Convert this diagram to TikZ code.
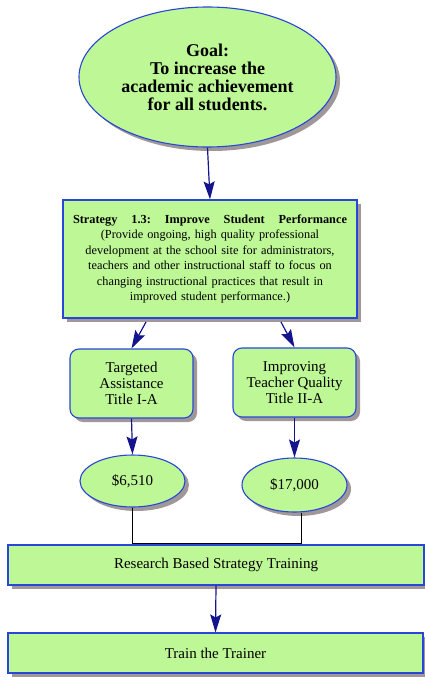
\documentclass[tikz,border=0pt]{standalone}
\usepackage{fontspec}
\setmainfont{Liberation Serif}
\usetikzlibrary{shapes.geometric,shadows,arrows.meta}

\definecolor{boxgreen}{RGB}{190,248,150}
\definecolor{edgeblue}{RGB}{40,70,215}
\definecolor{arrownavy}{RGB}{20,20,140}
\definecolor{shadowgray}{RGB}{160,152,152}

\tikzset{
  plan/.style={draw=edgeblue,line width=1.1pt,fill=boxgreen,inner sep=0pt,align=center,
    drop shadow={shadow xshift=4pt,shadow yshift=-4pt,fill=shadowgray,opacity=1}},
  oval/.style={plan,ellipse},
  flat/.style={plan,rectangle},
  round/.style={plan,rectangle,rounded corners=9pt},
  link/.style={draw=arrownavy,line width=1.2pt,-{Stealth[length=18pt,width=11pt,inset=3pt]}}
}

\begin{document}
\begin{tikzpicture}[x=1pt,y=-1pt]

\useasboundingbox (0,0) rectangle (425,677);

\node[oval,minimum width=257pt,minimum height=140pt,font=\fontsize{18}{18}\selectfont\bfseries] (goal) at (207.5,77) {Goal:\\To increase the\\academic achievement\\for all students.};

\node[flat,minimum width=294pt,minimum height=118pt,text width=290pt,font=\fontsize{12.3}{15.5}\selectfont] (strat) at (210,259) {\makebox[274pt]{\bfseries Strategy\hfill 1.3:\hfill Improve\hfill Student\hfill Performance}\\(Provide ongoing, high quality professional\\development at the school site for administrators,\\teachers and other instructional staff to focus on\\changing instructional practices that result in\\improved student performance.)};

\node[round,minimum width=123pt,minimum height=69pt,font=\fontsize{15}{16}\selectfont] (tia) at (131.5,383.5) {Targeted\\Assistance\\Title I-A};
\node[round,minimum width=123pt,minimum height=69pt,font=\fontsize{15}{16}\selectfont] (tiia) at (294.5,382.5) {Improving\\Teacher Quality\\Title II-A};

\node[oval,minimum width=105pt,minimum height=52pt,font=\fontsize{15}{16}\selectfont] (fundi) at (132.5,481) {\$6,510};
\node[oval,minimum width=105pt,minimum height=54pt,font=\fontsize{15}{16}\selectfont] (fundii) at (294.5,485) {\$17,000};

\node[flat,minimum width=416pt,minimum height=40pt,font=\fontsize{15}{16}\selectfont] (rbst) at (216,565) {Research Based Strategy Training};
\node[flat,minimum width=415pt,minimum height=40pt,font=\fontsize{15}{16}\selectfont] (ttt) at (215.5,653) {Train the Trainer};

\coordinate (sl) at (146,322);
\coordinate (sr) at (281,322);
\coordinate (jr) at (301,543);

\draw[link] (goal.south) -- (strat.north);
\draw[link] (sl) -- (tia.north);
\draw[link] (sr) -- (tiia.north);
\draw[link] (tia.south) -- (fundi.north);
\draw[link] (tiia.south) -- (fundii.north);
\draw[link] (rbst.south) -- (ttt.north);

\draw[black,line width=1pt] (fundi.south) |- (jr) -- (fundii.south -| jr);

\end{tikzpicture}
\end{document}
